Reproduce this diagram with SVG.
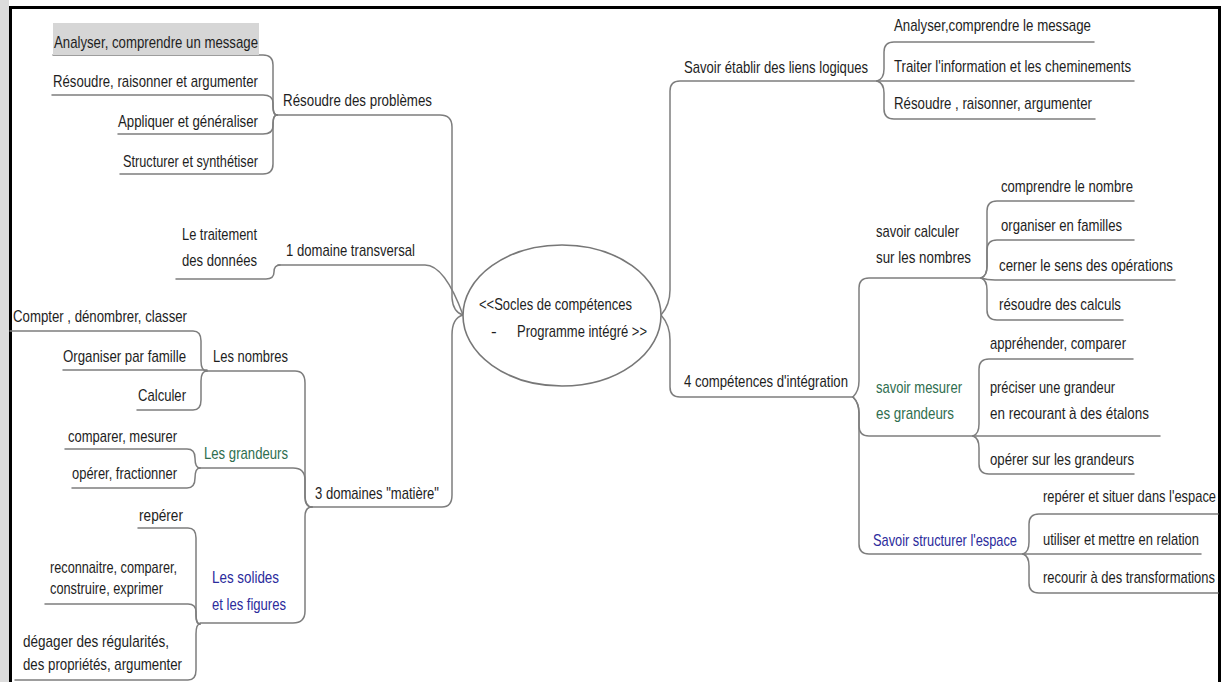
<svg xmlns="http://www.w3.org/2000/svg" width="1221" height="682" viewBox="0 0 1221 682">
  <style>
    .t { font-family: "Liberation Sans Narrow", "Liberation Sans", Arial, sans-serif; font-size: 17px; fill: #1e1e1e; }
    .g { fill: #2f6e4f; }
    .b { fill: #2b2b9c; }
    .c { fill: none; stroke: #7d7d7d; stroke-width: 1.5; stroke-linecap: round; }
  </style>

  <!-- page frame -->
  <rect x="0" y="0" width="9" height="682" fill="#dcdcdc"/>
  <rect x="11" y="9" width="1207" height="673" fill="#ffffff"/>
  <path d="M10.5,682 V7.5 H1219.5 V682" fill="none" stroke="#000" stroke-width="3"/>

  <!-- branch lines -->
  <g id="connectors" class="c">
    <!-- left: Résoudre des problèmes -->
    <path d="M53,55 H263 Q273,55 273,65 V105 Q273,115 277,115"/>
    <path d="M52,95 H263 Q273,95 273,103 V107 Q273,115 277,115"/>
    <path d="M118,134 H263 Q273,134 273,126 V123 Q273,115 277,115"/>
    <path d="M120,174 H263 Q273,174 273,164 V125 Q273,115 277,115"/>
    <path d="M277,115 H440 Q452,115 452,127 V298 Q453,312 463,315"/>
    <!-- left: 1 domaine transversal -->
    <path d="M176,279 H266 Q274,279 274,272 Q274,265 280,265"/>
    <path d="M278,265 H425 C440,265 452,285 463,315"/>
    <!-- left: Les nombres -->
    <path d="M10,331 H193 Q201,331 201,341 V361 Q201,371 207,371"/>
    <path d="M63,370 H207"/>
    <path d="M137,410 H193 Q201,410 201,400 V381 Q201,371 207,371"/>
    <path d="M207,371 H295 Q305,371 305,383 V495 Q305,507 312,507"/>
    <!-- left: Les grandeurs -->
    <path d="M65,449 H187 Q195,449 195,458 Q195,468 200,468"/>
    <path d="M72,488 H187 Q195,488 195,478 Q195,468 200,468"/>
    <path d="M200,468 H293 Q305,468 305,480 V497 Q305,507 312,507"/>
    <!-- left: Les solides et les figures -->
    <path d="M138,528 H188 Q196,528 196,538 V614 Q196,624 200,624"/>
    <path d="M45,604 H188 Q196,604 196,612 V616 Q196,624 200,624"/>
    <path d="M15,680 H188 Q196,680 196,670 V634 Q196,624 200,624"/>
    <path d="M200,623 H293 Q305,623 305,611 V517 Q305,507 312,507"/>
    <!-- left: 3 domaines "matière" -->
    <path d="M312,507 H442 Q452,507 452,495 V335 Q452,318 463,315"/>

    <!-- right: Savoir établir des liens logiques -->
    <path d="M661,315 Q670,305 670,290 V91 Q670,81 680,81 H877"/>
    <path d="M877,81 Q884,79 884,69 V52 Q884,42 894,42 H1094"/>
    <path d="M877,81 H1134"/>
    <path d="M877,81 Q884,83 884,93 V109 Q884,119 894,119 H1095"/>
    <!-- right: 4 compétences d'intégration -->
    <path d="M661,315 Q670,325 670,340 V387 Q670,397 680,397 H853"/>
    <path d="M853,397 Q859,391 859,381 V288 Q859,278 869,278 H981"/>
    <path d="M853,397 Q859,403 859,413 V426 Q859,436 869,436 H973"/>
    <path d="M853,397 Q859,403 859,413 V544 Q859,554 869,554 H1023"/>
    <!-- right: savoir calculer -->
    <path d="M981,278 Q987,276 987,266 V211 Q987,201 997,201 H1134"/>
    <path d="M981,278 Q987,276 987,266 V250 Q987,240 997,240 H1134"/>
    <path d="M981,278 Q987,280 995,280 H1175"/>
    <path d="M981,278 Q987,280 987,290 V310 Q987,320 997,320 H1123"/>
    <!-- right: savoir mesurer -->
    <path d="M973,436 Q979,434 979,424 V369 Q979,359 989,359 H1133"/>
    <path d="M973,436 H1160"/>
    <path d="M973,436 Q979,438 979,448 V464 Q979,474 989,474 H1134"/>
    <!-- right: Savoir structurer l'espace -->
    <path d="M1023,554 Q1029,552 1029,542 V524 Q1029,514 1039,514 H1218"/>
    <path d="M1023,554 H1201"/>
    <path d="M1023,554 Q1029,556 1029,566 V583 Q1029,593 1039,593 H1218"/>
  </g>

  <!-- central topic -->
  <g id="center">
    <ellipse cx="562" cy="315.5" rx="99" ry="70.5" fill="#fff" stroke="#777" stroke-width="1.6"/>
    <text class="t" x="479" y="310" textLength="153" lengthAdjust="spacingAndGlyphs">&lt;&lt;Socles de compétences</text>
    <text class="t" x="491" y="337">-<tspan x="517" textLength="130" lengthAdjust="spacingAndGlyphs">Programme intégré &gt;&gt;</tspan></text>
  </g>

  <!-- left branches -->
  <g id="resoudre-problemes">
    <text class="t" x="283" y="106" textLength="149" lengthAdjust="spacingAndGlyphs">Résoudre des problèmes</text>
  </g>
  <g id="analyser-message">
    <rect x="53" y="23" width="206" height="32" fill="#d6d6d6"/>
    <text class="t" x="54" y="48" textLength="204" lengthAdjust="spacingAndGlyphs">Analyser, comprendre un message</text>
  </g>
  <g id="resoudre-raisonner">
    <text class="t" x="53" y="87" textLength="205" lengthAdjust="spacingAndGlyphs">Résoudre, raisonner et argumenter</text>
  </g>
  <g id="appliquer">
    <text class="t" x="118" y="127" textLength="140" lengthAdjust="spacingAndGlyphs">Appliquer et généraliser</text>
  </g>
  <g id="structurer">
    <text class="t" x="123" y="167" textLength="135" lengthAdjust="spacingAndGlyphs">Structurer et synthétiser</text>
  </g>

  <g id="domaine-transversal">
    <text class="t" x="286" y="256" textLength="129" lengthAdjust="spacingAndGlyphs">1 domaine transversal</text>
  </g>
  <g id="traitement-donnees">
    <text class="t" x="182" y="240" textLength="75" lengthAdjust="spacingAndGlyphs">Le traitement</text>
    <text class="t" x="182" y="266" textLength="75" lengthAdjust="spacingAndGlyphs">des données</text>
  </g>

  <g id="domaines-matiere">
    <text class="t" x="315" y="499" textLength="124" lengthAdjust="spacingAndGlyphs">3 domaines "matière"</text>
  </g>
  <g id="les-nombres">
    <text class="t" x="213" y="362" textLength="75" lengthAdjust="spacingAndGlyphs">Les nombres</text>
  </g>
  <g id="compter">
    <text class="t" x="13" y="322" textLength="174" lengthAdjust="spacingAndGlyphs">Compter , dénombrer, classer</text>
  </g>
  <g id="organiser-famille">
    <text class="t" x="63" y="362" textLength="123" lengthAdjust="spacingAndGlyphs">Organiser par famille</text>
  </g>
  <g id="calculer">
    <text class="t" x="138" y="401" textLength="48" lengthAdjust="spacingAndGlyphs">Calculer</text>
  </g>

  <g id="les-grandeurs">
    <text class="t g" x="204" y="459" textLength="84" lengthAdjust="spacingAndGlyphs">Les grandeurs</text>
  </g>
  <g id="comparer-mesurer">
    <text class="t" x="68" y="442" textLength="109" lengthAdjust="spacingAndGlyphs">comparer, mesurer</text>
  </g>
  <g id="operer-fractionner">
    <text class="t" x="72" y="479" textLength="105" lengthAdjust="spacingAndGlyphs">opérer, fractionner</text>
  </g>

  <g id="les-solides">
    <text class="t b" x="212" y="583" textLength="67" lengthAdjust="spacingAndGlyphs">Les solides</text>
    <text class="t b" x="212" y="610" textLength="74" lengthAdjust="spacingAndGlyphs">et les figures</text>
  </g>
  <g id="reperer">
    <text class="t" x="139" y="521" textLength="44" lengthAdjust="spacingAndGlyphs">repérer</text>
  </g>
  <g id="reconnaitre">
    <text class="t" x="50" y="573" textLength="127" lengthAdjust="spacingAndGlyphs">reconnaitre, comparer,</text>
    <text class="t" x="50" y="594" textLength="113" lengthAdjust="spacingAndGlyphs">construire, exprimer</text>
  </g>
  <g id="degager">
    <text class="t" x="23" y="647" textLength="146" lengthAdjust="spacingAndGlyphs">dégager des régularités,</text>
    <text class="t" x="23" y="670" textLength="159" lengthAdjust="spacingAndGlyphs">des propriétés, argumenter</text>
  </g>

  <!-- right branches -->
  <g id="liens-logiques">
    <text class="t" x="684" y="73" textLength="184" lengthAdjust="spacingAndGlyphs">Savoir établir des liens logiques</text>
  </g>
  <g id="analyser-le-message">
    <text class="t" x="894" y="31" textLength="197" lengthAdjust="spacingAndGlyphs">Analyser,comprendre le message</text>
  </g>
  <g id="traiter-information">
    <text class="t" x="894" y="72" textLength="237" lengthAdjust="spacingAndGlyphs">Traiter l'information et les cheminements</text>
  </g>
  <g id="resoudre-argumenter">
    <text class="t" x="894" y="109" textLength="198" lengthAdjust="spacingAndGlyphs">Résoudre , raisonner, argumenter</text>
  </g>

  <g id="competences-integration">
    <text class="t" x="684" y="387" textLength="164" lengthAdjust="spacingAndGlyphs">4 compétences d'intégration</text>
  </g>

  <g id="savoir-calculer">
    <text class="t" x="876" y="237" textLength="83" lengthAdjust="spacingAndGlyphs">savoir calculer</text>
    <text class="t" x="876" y="263" textLength="95" lengthAdjust="spacingAndGlyphs">sur les nombres</text>
  </g>
  <g id="comprendre-nombre">
    <text class="t" x="1001" y="192" textLength="132" lengthAdjust="spacingAndGlyphs">comprendre le nombre</text>
  </g>
  <g id="organiser-familles">
    <text class="t" x="1001" y="231" textLength="121" lengthAdjust="spacingAndGlyphs">organiser en familles</text>
  </g>
  <g id="cerner-operations">
    <text class="t" x="999" y="271" textLength="174" lengthAdjust="spacingAndGlyphs">cerner le sens des opérations</text>
  </g>
  <g id="resoudre-calculs">
    <text class="t" x="999" y="310" textLength="122" lengthAdjust="spacingAndGlyphs">résoudre des calculs</text>
  </g>

  <g id="savoir-mesurer">
    <text class="t g" x="876" y="393" textLength="86" lengthAdjust="spacingAndGlyphs">savoir mesurer</text>
    <text class="t g" x="876" y="419" textLength="78" lengthAdjust="spacingAndGlyphs">es grandeurs</text>
  </g>
  <g id="apprehender">
    <text class="t" x="990" y="349" textLength="136" lengthAdjust="spacingAndGlyphs">appréhender, comparer</text>
  </g>
  <g id="preciser-grandeur">
    <text class="t" x="990" y="393" textLength="125" lengthAdjust="spacingAndGlyphs">préciser une grandeur</text>
    <text class="t" x="990" y="419" textLength="159" lengthAdjust="spacingAndGlyphs">en recourant à des étalons</text>
  </g>
  <g id="operer-grandeurs">
    <text class="t" x="990" y="465" textLength="144" lengthAdjust="spacingAndGlyphs">opérer sur les grandeurs</text>
  </g>

  <g id="structurer-espace">
    <text class="t b" x="873" y="546" textLength="144" lengthAdjust="spacingAndGlyphs">Savoir structurer l'espace</text>
  </g>
  <g id="situer-espace">
    <text class="t" x="1043" y="502" textLength="173" lengthAdjust="spacingAndGlyphs">repérer et situer dans l'espace</text>
  </g>
  <g id="mettre-en-relation">
    <text class="t" x="1043" y="545" textLength="156" lengthAdjust="spacingAndGlyphs">utiliser et mettre en relation</text>
  </g>
  <g id="transformations">
    <text class="t" x="1043" y="583" textLength="172" lengthAdjust="spacingAndGlyphs">recourir à des transformations</text>
  </g>
</svg>
